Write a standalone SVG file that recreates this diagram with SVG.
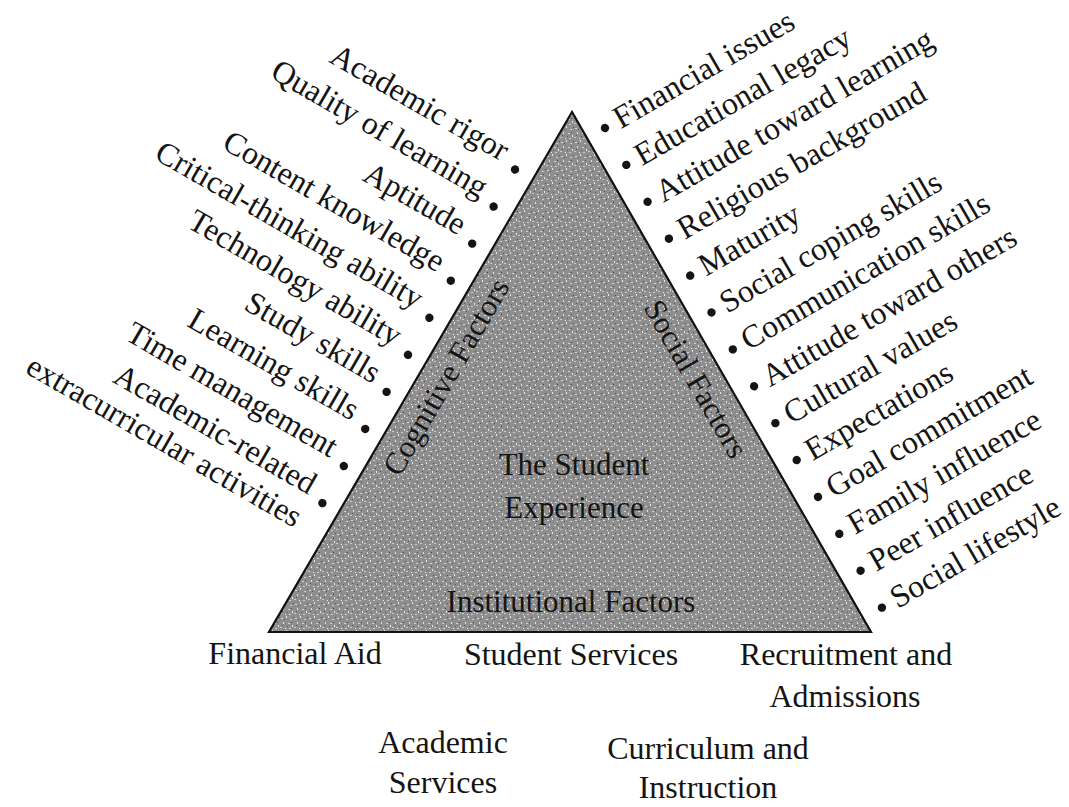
<svg xmlns="http://www.w3.org/2000/svg" width="1069" height="807" viewBox="0 0 1069 807">
<style>
text{font-family:"Liberation Serif","Times New Roman",serif;font-size:32px;fill:#141414}
.in{font-size:31px}
.dot{fill:#141414}
</style>
<defs>
<pattern id="grain" width="14" height="14" patternUnits="userSpaceOnUse">
<rect width="14" height="14" fill="#8e8e8e"/>
<rect x="1" y="2" width="2" height="1" fill="#d8d8d8"/>
<rect x="6" y="0" width="1" height="2" fill="#e6e6e6"/>
<rect x="10" y="3" width="2" height="1" fill="#cfcfcf"/>
<rect x="3" y="6" width="1" height="2" fill="#e0e0e0"/>
<rect x="8" y="7" width="2" height="1" fill="#d4d4d4"/>
<rect x="12" y="9" width="1" height="2" fill="#e8e8e8"/>
<rect x="0" y="11" width="2" height="1" fill="#cccccc"/>
<rect x="5" y="12" width="1" height="1" fill="#f0f0f0"/>
<rect x="9" y="12" width="2" height="1" fill="#d0d0d0"/>
<rect x="4" y="3" width="1" height="1" fill="#555"/>
<rect x="11" y="6" width="1" height="1" fill="#4a4a4a"/>
<rect x="2" y="9" width="1" height="1" fill="#555"/>
<rect x="7" y="10" width="1" height="1" fill="#5a5a5a"/>
<rect x="13" y="1" width="1" height="1" fill="#505050"/>
</pattern>
</defs>
<rect width="1069" height="807" fill="#ffffff"/>

<g id="triangle">
<polygon points="572,112 269,632 871,632" fill="url(#grain)" stroke="#111" stroke-width="2.2" stroke-linejoin="miter"/>
</g>

<g id="center-label">
<text class="in" x="574" y="475" text-anchor="middle">The Student</text>
<text class="in" x="574" y="518" text-anchor="middle">Experience</text>
</g>
<g id="cognitive-factors">
<text class="in" transform="translate(455,382) rotate(-60)" text-anchor="middle">Cognitive Factors</text>
</g>
<g id="social-factors">
<text class="in" transform="translate(687,384) rotate(60)" text-anchor="middle">Social Factors</text>
</g>
<g id="institutional-factors">
<text class="in" x="571" y="612" text-anchor="middle">Institutional Factors</text>
</g>

<g id="cognitive-items" transform="translate(515,169.5) rotate(30)">
<g id="c1"><circle class="dot" cx="0" cy="0" r="4.2"/><text x="-16" y="0" text-anchor="end">Academic rigor</text></g>
<g id="c2"><circle class="dot" cx="0" cy="42.8" r="4.2"/><text x="-16" y="42.8" text-anchor="end">Quality of learning</text></g>
<g id="c3"><circle class="dot" cx="0" cy="85.6" r="4.2"/><text x="-16" y="85.6" text-anchor="end">Aptitude</text></g>
<g id="c4"><circle class="dot" cx="0" cy="128.4" r="4.2"/><text x="-16" y="128.4" text-anchor="end">Content knowledge</text></g>
<g id="c5"><circle class="dot" cx="0" cy="171.2" r="4.2"/><text x="-16" y="171.2" text-anchor="end">Critical-thinking ability</text></g>
<g id="c6"><circle class="dot" cx="0" cy="214" r="4.2"/><text x="-16" y="214" text-anchor="end">Technology ability</text></g>
<g id="c7"><circle class="dot" cx="0" cy="256.8" r="4.2"/><text x="-16" y="256.8" text-anchor="end">Study skills</text></g>
<g id="c8"><circle class="dot" cx="0" cy="299.6" r="4.2"/><text x="-16" y="299.6" text-anchor="end">Learning skills</text></g>
<g id="c9"><circle class="dot" cx="0" cy="342.4" r="4.2"/><text x="-16" y="342.4" text-anchor="end">Time management</text></g>
<g id="c10"><circle class="dot" cx="0" cy="385.2" r="4.2"/><text x="-16" y="385.2" text-anchor="end">Academic-related</text><text x="-12" y="421" text-anchor="end">extracurricular activities</text></g>
</g>

<g id="social-items" transform="translate(605,128) rotate(-30)">
<g id="s1"><circle class="dot" cx="0" cy="0" r="4.2"/><text x="13" y="9">Financial issues</text></g>
<g id="s2"><circle class="dot" cx="0" cy="42.6" r="4.2"/><text x="13" y="51.6">Educational legacy</text></g>
<g id="s3"><circle class="dot" cx="0" cy="85.2" r="4.2"/><text x="13" y="94.2">Attitude toward learning</text></g>
<g id="s4"><circle class="dot" cx="0" cy="127.8" r="4.2"/><text x="13" y="136.8">Religious background</text></g>
<g id="s5"><circle class="dot" cx="0" cy="170.4" r="4.2"/><text x="13" y="179.4">Maturity</text></g>
<g id="s6"><circle class="dot" cx="0" cy="213" r="4.2"/><text x="13" y="222">Social coping skills</text></g>
<g id="s7"><circle class="dot" cx="0" cy="255.6" r="4.2"/><text x="13" y="264.6">Communication skills</text></g>
<g id="s8"><circle class="dot" cx="0" cy="298.2" r="4.2"/><text x="13" y="307.2">Attitude toward others</text></g>
<g id="s9"><circle class="dot" cx="0" cy="340.8" r="4.2"/><text x="13" y="349.8">Cultural values</text></g>
<g id="s10"><circle class="dot" cx="0" cy="383.4" r="4.2"/><text x="13" y="392.4">Expectations</text></g>
<g id="s11"><circle class="dot" cx="0" cy="426" r="4.2"/><text x="13" y="435">Goal commitment</text></g>
<g id="s12"><circle class="dot" cx="0" cy="468.6" r="4.2"/><text x="13" y="477.6">Family influence</text></g>
<g id="s13"><circle class="dot" cx="0" cy="511.2" r="4.2"/><text x="13" y="520.2">Peer influence</text></g>
<g id="s14"><circle class="dot" cx="0" cy="553.8" r="4.2"/><text x="13" y="562.8">Social lifestyle</text></g>
</g>

<g id="institutional-items">
<g id="financial-aid"><text x="295" y="664" text-anchor="middle">Financial Aid</text></g>
<g id="student-services"><text x="571" y="665" text-anchor="middle">Student Services</text></g>
<g id="recruitment"><text x="846" y="665" text-anchor="middle">Recruitment and</text><text x="845" y="707" text-anchor="middle">Admissions</text></g>
<g id="academic-services"><text x="443" y="753" text-anchor="middle">Academic</text><text x="443" y="793" text-anchor="middle">Services</text></g>
<g id="curriculum"><text x="708" y="759" text-anchor="middle">Curriculum and</text><text x="708" y="798" text-anchor="middle">Instruction</text></g>
</g>
</svg>
